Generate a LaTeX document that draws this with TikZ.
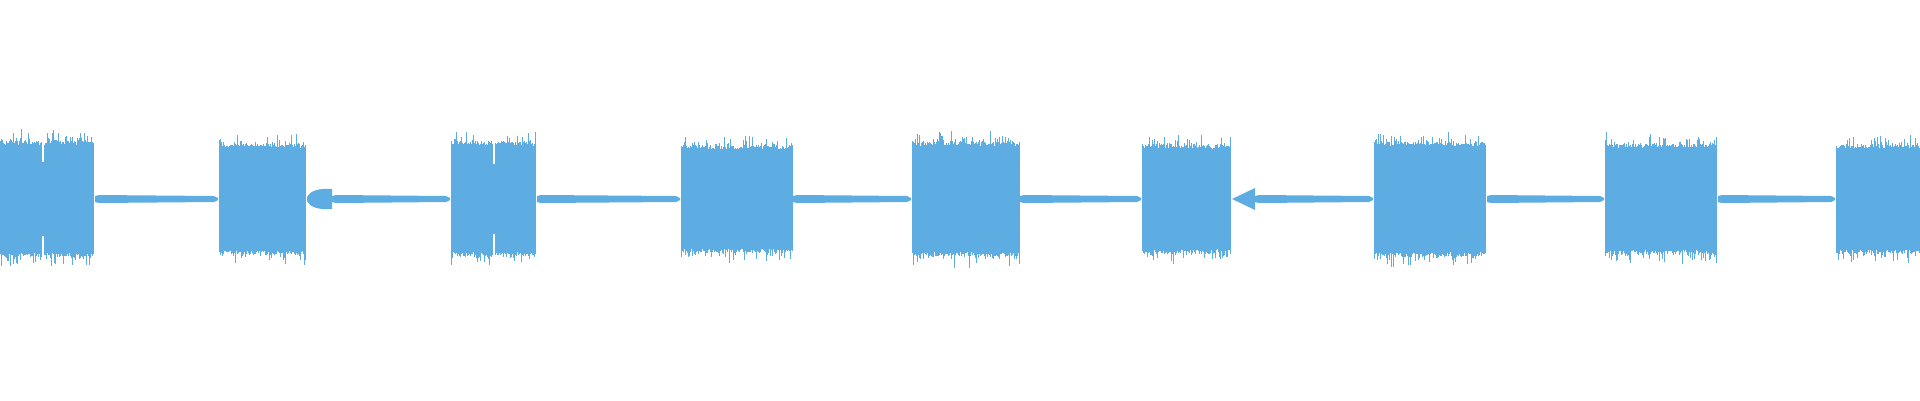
\documentclass[tikz,border=0pt]{standalone}
\definecolor{waveBlue}{HTML}{5DACE2}
% one loud burst, drawn as thin random bars
\newcommand\drawBurst[3]{
  \foreach \x in {#1,...,#2} {
    \pgfmathsetmacro\up{#3*(0.9+0.08*rnd+0.2*rnd^6)}
    \pgfmathsetmacro\dn{#3*(0.9+0.08*rnd+0.2*rnd^6)}
    \fill[waveBlue] (\x,199-\up) rectangle ++(1.05,\up+\dn);
  }
}
% the quiet part between bursts
\newcommand\drawQuiet[2]{
  \fill[waveBlue] (#1,196) -- (#1+4,195) -- (#2-4,196) -- (#2,198) -- (#2,200)
    -- (#2-4,202) -- (#1+4,203) -- (#1,202) -- cycle;
}
\begin{document}
\begin{tikzpicture}[x=1pt,y=-1pt]
  \useasboundingbox (0,0) rectangle (1920,400);
  \pgfmathsetseed{7}

  \foreach \a/\b/\amp in {0/93/60,219/305/57,451/535/59,681/792/55,
                          912/1019/59,1142/1230/56,1374/1485/59,1605/1716/57,1836/1919/56} {
    \drawBurst{\a}{\b}{\amp}
  }

  % dips inside bursts
  \fill[white] (42,110) rectangle (44,162);
  \fill[white] (42,236) rectangle (44,290);
  \fill[white] (493,110) rectangle (495,164);
  \fill[white] (493,234) rectangle (495,290);

  \foreach \a/\b in {95/218,332/450,537/680,793/911,1020/1141,1255/1373,1487/1604,1718/1835} {
    \drawQuiet{\a}{\b}
  }

  % small echoes
  \fill[waveBlue] (307,197) .. controls (310,191) and (318,188) .. (332,189)
    -- (332,209) .. controls (318,210) and (310,207) .. (307,201) -- cycle;
  \fill[waveBlue] (1232,199) -- (1255,188) -- (1255,210) -- cycle;
\end{tikzpicture}
\end{document}
